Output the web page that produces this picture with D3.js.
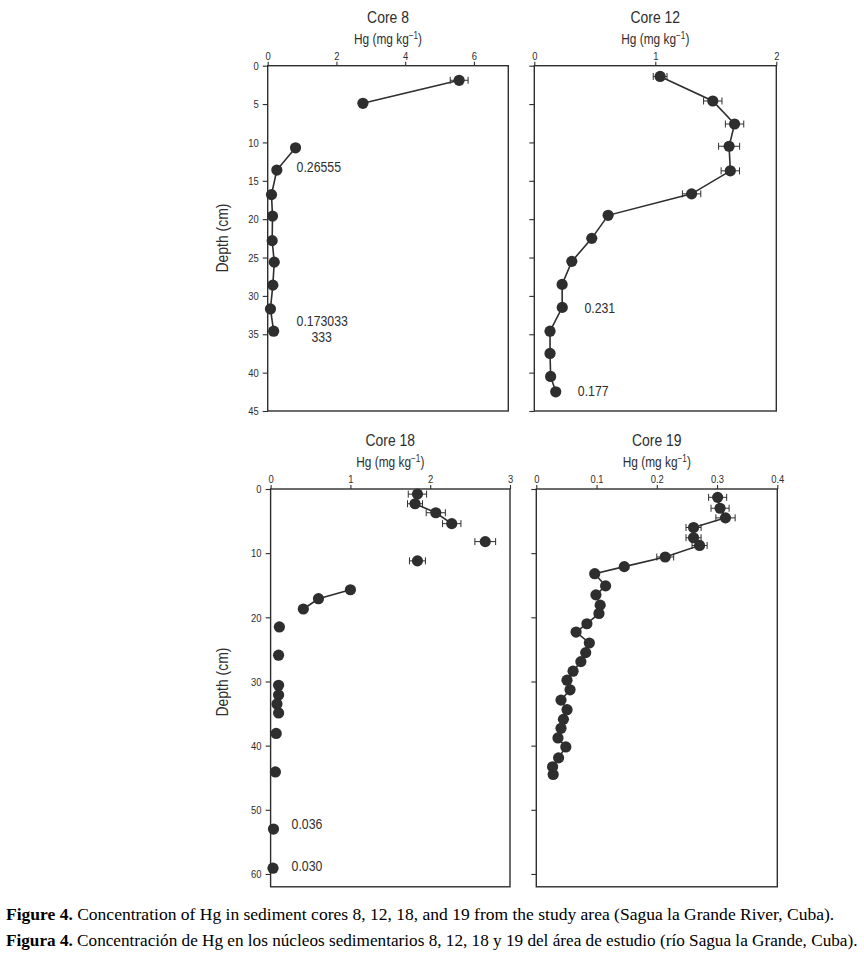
<!DOCTYPE html>
<html><head><meta charset="utf-8">
<script src="https://cdn.jsdelivr.net/npm/d3@7/dist/d3.min.js"></script>
<style>body{margin:0;background:#fff} svg{display:block}</style>
</head><body>
<svg id="chart" width="864" height="960"></svg>
<script>
// ---------------- DATA ----------------
const core8Depth = [1.9, 4.9, 10.7, 13.6, 16.8, 19.6, 22.8, 25.6, 28.6, 31.7, 34.6];
const core8Hg    = [5.57, 2.77, 0.81, 0.266, 0.11, 0.14, 0.13, 0.19, 0.15, 0.08, 0.173];
const core8Err   = [0.26, null, null, null, null, null, null, null, null, null, null];
const core8Link  = [0, 1, 0, 1, 1, 1, 1, 1, 1, 1, 1];

const core12Depth = [1.4, 4.6, 7.6, 10.5, 13.7, 16.7, 19.5, 22.5, 25.5, 28.5, 31.5, 34.6, 37.5, 40.5, 42.5];
const core12Hg    = [1.04, 1.475, 1.655, 1.61, 1.62, 1.30, 0.61, 0.475, 0.31, 0.23, 0.231, 0.13, 0.13, 0.135, 0.177];
const core12Err   = [0.057, 0.076, 0.076, 0.087, 0.076, 0.076, null, null, null, null, null, null, null, null, null];
const core12Link  = [0, 1, 1, 1, 1, 1, 1, 1, 1, 1, 1, 1, 1, 1, 1];

const core18Depth = [0.8, 2.3, 3.7, 5.4, 8.2, 11.2, 15.7, 17.1, 18.7, 21.5, 25.9, 30.6, 32.1, 33.5, 34.9, 38.1, 44.1, 53.0, 59.1];
const core18Hg    = [1.84, 1.81, 2.07, 2.27, 2.69, 1.84, 1.0, 0.60, 0.41, 0.11, 0.10, 0.10, 0.10, 0.08, 0.10, 0.07, 0.06, 0.036, 0.030];
const core18Err   = [0.115, 0.094, 0.12, 0.115, 0.13, 0.10, null, null, null, null, null, null, null, null, null, null, null, null, null];
const core18Link  = [0, 0, 1, 1, 0, 0, 0, 1, 1, 0, 0, 0, 0, 0, 0, 0, 0, 0, 0];

const core19Depth = [1.3, 3.0, 4.5, 6.0, 7.6, 8.8, 10.6, 12.1, 13.2, 15.1, 16.5, 18.1, 19.4, 21.0, 22.3, 24.0, 25.5, 26.9, 28.4, 29.8, 31.3, 32.9, 34.4, 35.9, 37.3, 38.8, 40.2, 41.9, 43.3, 44.5];
const core19Hg    = [0.301, 0.305, 0.314, 0.261, 0.261, 0.271, 0.214, 0.146, 0.097, 0.115, 0.099, 0.106, 0.104, 0.084, 0.066, 0.088, 0.082, 0.074, 0.061, 0.051, 0.056, 0.041, 0.051, 0.045, 0.041, 0.036, 0.049, 0.037, 0.027, 0.028];
const core19Err   = [0.015, 0.015, 0.016, 0.0125, 0.0125, 0.0125, 0.014, null, null, null, null, null, null, null, null, null, null, null, null, null, null, null, null, null, null, null, null, null, null, null];
const core19Link  = [0, 1, 1, 1, 1, 1, 1, 1, 1, 1, 1, 1, 1, 1, 1, 1, 1, 1, 1, 1, 1, 1, 1, 1, 1, 1, 1, 1, 1, 1];

const panelTitles = ["Core 8", "Core 12", "Core 18", "Core 19"];
const core8XTicks  = [0, 2, 4, 6];          const core8XLabels  = ["0", "2", "4", "6"];
const core12XTicks = [0, 1, 2];             const core12XLabels = ["0", "1", "2"];
const core18XTicks = [0, 1, 2, 3];          const core18XLabels = ["0", "1", "2", "3"];
const core19XTicks = [0, 0.1, 0.2, 0.3, 0.4]; const core19XLabels = ["0", "0.1", "0.2", "0.3", "0.4"];
const topDepthTicks    = [0, 5, 10, 15, 20, 25, 30, 35, 40, 45];
const bottomDepthTicks = [0, 10, 20, 30, 40, 50, 60];

const core8Notes  = [{t: "0.26555", v: 0.84, d: 13.2}, {t: "0.173033", v: 0.84, d: 33.3}, {t: "333", v: 1.57, d: 35.3, mid: true}];
const core12Notes = [{t: "0.231", v: 0.414, d: 31.5}, {t: "0.177", v: 0.36, d: 42.3}];
const core18Notes = [{t: "0.036", v: 0.263, d: 52.2}, {t: "0.030", v: 0.263, d: 58.7}];
const core19Notes = [];

const xAxisTitle = "Hg (mg kg";
const yAxisTitle = "Depth (cm)";
const captionEn = ["Figure 4.", " Concentration of Hg in sediment cores 8, 12, 18, and 19 from the study area (Sagua la Grande River, Cuba)."];
const captionEs = ["Figura 4.", " Concentración de Hg en los núcleos sedimentarios 8, 12, 18 y 19 del área de estudio (río Sagua la Grande, Cuba)."];

// ---------------- DRAW ----------------
const svg = d3.select("#chart");
const ink = "#2e2e2e";
const sans = "'Liberation Sans',Arial,sans-serif";
const NX = 0.82; // horizontal condensing (narrow face)

// condense a text element horizontally around its anchor point
function narrow(sel, extra) {
  sel.each(function () {
    const t = d3.select(this);
    const x = +t.attr("x") || 0, y = +t.attr("y") || 0;
    t.attr("x", 0).attr("y", 0)
     .attr("transform", `translate(${x},${y})${extra || ""} scale(${NX},1)`);
  });
}

const panels = [
  {title: panelTitles[0], depth: core8Depth, hg: core8Hg, err: core8Err, link: core8Link,
   left: 267.7, right: 508.3, top: 65.7, bottom: 411, xDomain: [0, 7], yDomain: [0, 45],
   xTicks: core8XTicks, xLabels: core8XLabels, yTicks: topDepthTicks, yLabels: true, notes: core8Notes, ylab: 238},
  {title: panelTitles[1], depth: core12Depth, hg: core12Hg, err: core12Err, link: core12Link,
   left: 534.3, right: 776.3, top: 65.7, bottom: 411, xDomain: [0, 2], yDomain: [0, 45],
   xTicks: core12XTicks, xLabels: core12XLabels, yTicks: topDepthTicks, yLabels: false, notes: core12Notes},
  {title: panelTitles[2], depth: core18Depth, hg: core18Hg, err: core18Err, link: core18Link,
   left: 270.6, right: 510, top: 489, bottom: 886.8, xDomain: [0, 3], yDomain: [0, 62],
   xTicks: core18XTicks, xLabels: core18XLabels, yTicks: bottomDepthTicks, yLabels: true, notes: core18Notes, ylab: 682},
  {title: panelTitles[3], depth: core19Depth, hg: core19Hg, err: core19Err, link: core19Link,
   left: 536.3, right: 777.3, top: 489, bottom: 886.8, xDomain: [0, 0.4], yDomain: [0, 62],
   xTicks: core19XTicks, xLabels: core19XLabels, yTicks: bottomDepthTicks, yLabels: false, notes: core19Notes}
];

panels.forEach(p => {
  const x = d3.scaleLinear().domain(p.xDomain).range([p.left, p.right]);
  const y = d3.scaleLinear().domain(p.yDomain).range([p.top, p.bottom]);
  const g = svg.append("g");
  const cx = (p.left + p.right) / 2;

  // titles
  const tt = g.append("text").attr("x", cx).attr("y", p.top - 43).attr("text-anchor", "middle")
    .style("font-family", sans).style("font-size", "17px").attr("fill", ink).text(p.title);
  narrow(tt);
  const ht = g.append("text").attr("x", cx).attr("y", p.top - 22).attr("text-anchor", "middle")
    .style("font-family", sans).style("font-size", "14.5px").attr("fill", ink);
  ht.append("tspan").text(xAxisTitle);
  ht.append("tspan").attr("dy", -5).style("font-size", "10px").text("\u22121");
  ht.append("tspan").attr("dy", 5).text(")");
  narrow(ht);

  // frame
  g.append("rect").attr("x", p.left).attr("y", p.top).attr("width", p.right - p.left).attr("height", p.bottom - p.top)
    .attr("fill", "none").attr("stroke", ink).attr("stroke-width", 1.4);

  // top axis
  const xa = g.append("g").attr("transform", `translate(0,${p.top})`)
    .call(d3.axisTop(x).tickValues(p.xTicks).tickSize(4).tickPadding(2).tickFormat((d, i) => p.xLabels[i]));
  // left axis
  const ya = g.append("g").attr("transform", `translate(${p.left},0)`)
    .call(d3.axisLeft(y).tickValues(p.yTicks).tickSize(5).tickPadding(4).tickFormat(p.yLabels ? d3.format("d") : () => ""));
  [xa, ya].forEach(a => {
    a.select(".domain").remove();
    a.selectAll("line").attr("stroke", ink).attr("stroke-width", 1.1);
    a.selectAll("text").attr("fill", ink).style("font-family", sans).style("font-size", "11.5px");
    narrow(a.selectAll("text"));
  });

  if (p.ylab) {
    const yl = g.append("text").attr("x", 228).attr("y", p.ylab).attr("text-anchor", "middle")
      .style("font-family", sans).style("font-size", "17px").attr("fill", ink).text(yAxisTitle);
    narrow(yl, " rotate(-90)");
  }

  const pts = p.depth.map((d, i) => ({d, v: p.hg[i], e: p.err[i], l: p.link[i]}));
  // connected groups
  const groups = [];
  pts.forEach((pt, i) => {
    if (i > 0 && pt.l) groups[groups.length - 1].push(pt); else groups.push([pt]);
  });
  const line = d3.line().x(q => x(q.v)).y(q => y(q.d));
  groups.filter(gr => gr.length > 1).forEach(gr => {
    g.append("path").attr("d", line(gr)).attr("fill", "none").attr("stroke", ink).attr("stroke-width", 1.6);
  });

  // error bars
  const eb = g.selectAll(".eb").data(pts.filter(q => q.e != null)).enter().append("g");
  eb.append("line").attr("x1", q => x(q.v - q.e)).attr("x2", q => x(q.v + q.e)).attr("y1", q => y(q.d)).attr("y2", q => y(q.d))
    .attr("stroke", ink).attr("stroke-width", 1);
  eb.append("line").attr("x1", q => x(q.v - q.e)).attr("x2", q => x(q.v - q.e)).attr("y1", q => y(q.d) - 3.5).attr("y2", q => y(q.d) + 3.5)
    .attr("stroke", ink).attr("stroke-width", 1);
  eb.append("line").attr("x1", q => x(q.v + q.e)).attr("x2", q => x(q.v + q.e)).attr("y1", q => y(q.d) - 3.5).attr("y2", q => y(q.d) + 3.5)
    .attr("stroke", ink).attr("stroke-width", 1);

  // markers
  g.selectAll(".pt").data(pts).enter().append("circle")
    .attr("cx", q => x(q.v)).attr("cy", q => y(q.d)).attr("r", 5.6).attr("fill", ink);

  // notes
  p.notes.forEach(n => {
    const nt = g.append("text").attr("x", x(n.v)).attr("y", y(n.d)).attr("dy", "0.35em")
      .attr("text-anchor", n.mid ? "middle" : "start")
      .style("font-family", sans).style("font-size", "15px").attr("fill", ink).text(n.t);
    narrow(nt);
  });
});

// caption
const serif = "'Liberation Serif','Times New Roman',Times,serif";
[[captionEn, 920, 829], [captionEs, 946, 852]].forEach(([parts, yy, w]) => {
  const t = svg.append("text").attr("x", 0).attr("y", 0)
    .style("font-family", serif).style("font-size", "16px").attr("fill", "#000");
  t.append("tspan").style("font-weight", "bold").text(parts[0]);
  t.append("tspan").text(parts[1]);
  const len = t.node().getComputedTextLength();
  t.attr("transform", `translate(6,${yy}) scale(${w / len},1)`);
});
</script>
</body></html>
